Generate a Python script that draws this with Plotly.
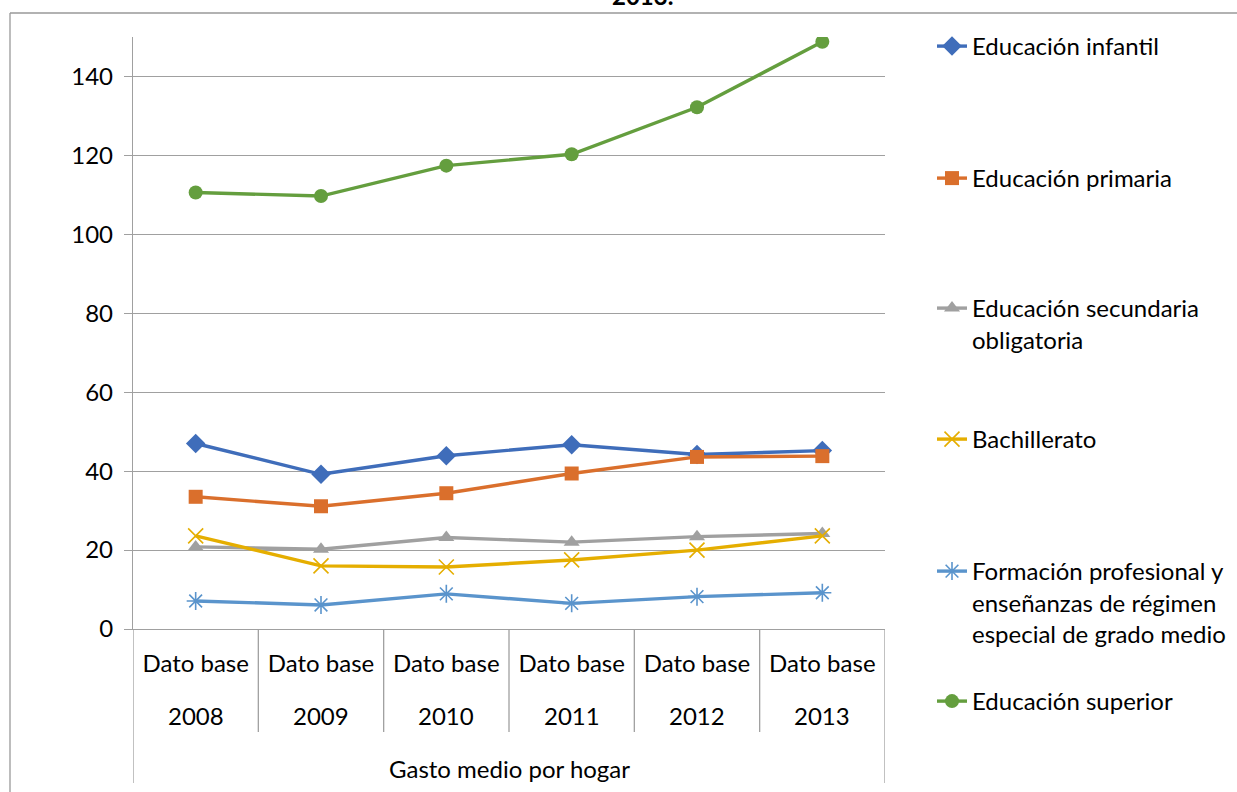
import plotly.graph_objects as go

years = ["2008", "2009", "2010", "2011", "2012", "2013"]
tick_top = "Dato base"
group_label = "Gasto medio por hogar"
title_tail = "2013."

series_names = [
    "Educación infantil",
    "Educación primaria",
    "Educación secundaria<br>obligatoria",
    "Bachillerato",
    "Formación profesional y<br>enseñanzas de régimen<br>especial de grado medio",
    "Educación superior",
]
infantil = [47.0, 39.2, 43.9, 46.7, 44.2, 45.2]
primaria = [33.5, 31.1, 34.4, 39.4, 43.6, 43.8]
secundaria = [20.8, 20.2, 23.2, 22.0, 23.4, 24.2]
bachillerato = [23.6, 16.0, 15.7, 17.5, 20.0, 23.6]
fp = [7.1, 6.1, 8.9, 6.5, 8.2, 9.2]
superior = [110.6, 109.7, 117.4, 120.3, 132.2, 148.8]

values = [infantil, primaria, secundaria, bachillerato, fp, superior]
colors = ["#3F6DBA", "#DA6F2C", "#A0A0A0", "#E5AE00", "#5A94CC", "#649E3E"]
symbols = ["diamond", "square", "triangle-up", "x-thin", "asterisk", "circle"]
msizes = [15, 14, 14, 15, 15, 14]
# legend text tops (px) for each item
legend_tops = [35, 167, 297, 428, 560, 690]

FONT = "Lato"
FS = 24
W, H = 1237, 792
L, R, T, B = 133, 885, 37, 629
PW, PH = R - L, B - T


def px_x(p):
    return (p - L) / PW


def px_y(p):
    return (B - p) / PH


fig = go.Figure()
for i, (name, vals) in enumerate(zip(series_names, values)):
    line_based = symbols[i] in ("x-thin", "asterisk")
    marker = dict(symbol=symbols[i], size=msizes[i], color=colors[i])
    if line_based:
        marker["line"] = dict(color=colors[i], width=1.6)
    else:
        marker["line"] = dict(width=0)
    fig.add_trace(go.Scatter(
        x=years, y=vals, name=name, mode="lines+markers",
        line=dict(color=colors[i], width=3.4),
        marker=marker,
        legend="legend" if i == 0 else f"legend{i+1}",
    ))

legend_base = dict(
    xanchor="left", yanchor="top", bgcolor="rgba(0,0,0,0)",
    borderwidth=0, font=dict(family=FONT, size=FS, color="#000000"),
    valign="top", itemwidth=30,
)
legends = {}
for i, top in enumerate(legend_tops):
    key = "legend" if i == 0 else f"legend{i+1}"
    legends[key] = dict(legend_base, x=px_x(932), y=px_y(top - 11))

shapes = []
line_col = "#a0a0a0"
# category dividers below the axis
for k in range(1, len(years)):
    shapes.append(dict(type="line", xref="x", yref="paper", x0=k - 0.5, x1=k - 0.5,
                       y0=0, y1=-(732 - B) / PH, line=dict(color=line_col, width=1.3)))
for edge in (-0.5, len(years) - 0.5):
    shapes.append(dict(type="line", xref="x", yref="paper", x0=edge, x1=edge,
                       y0=0, y1=-(783 - B) / PH, line=dict(color=line_col, width=1.3)))
# chart frame (partially visible)
shapes.append(dict(type="line", xref="paper", yref="paper", x0=px_x(10), x1=px_x(1300),
                   y0=px_y(13), y1=px_y(13), line=dict(color="#999999", width=1.3)))
shapes.append(dict(type="line", xref="paper", yref="paper", x0=px_x(10), x1=px_x(10),
                   y0=px_y(13), y1=px_y(850), line=dict(color="#999999", width=1.3)))

annotations = []
for idx, yr in enumerate(years):
    annotations.append(dict(x=idx, xref="x", yref="paper", y=px_y(715), text=yr,
                            showarrow=False, yanchor="middle",
                            font=dict(family=FONT, size=FS, color="#000000")))
annotations.append(dict(x=0.5, xref="paper", yref="paper", y=px_y(768), text=group_label,
                        showarrow=False, yanchor="middle",
                        font=dict(family=FONT, size=FS, color="#000000")))
annotations.append(dict(x=px_x(642), xref="paper", yref="paper", y=px_y(12), text="<b>" + title_tail + "</b>",
                        showarrow=False, xanchor="center", yanchor="bottom",
                        font=dict(family=FONT, size=FS, color="#000000")))

fig.update_layout(
    width=W, height=H,
    margin=dict(l=L, r=W - R, t=T, b=H - B, pad=0, autoexpand=False),
    paper_bgcolor="white", plot_bgcolor="white",
    font=dict(family=FONT, size=FS, color="#000000"),
    showlegend=True,
    shapes=shapes,
    annotations=annotations,
    **legends,
)
fig.update_xaxes(
    type="category", range=[-0.5, len(years) - 0.5],
    tickvals=years, ticktext=[tick_top] * len(years),
    ticks="", showgrid=False, showline=True, linecolor=line_col, linewidth=1.3,
    ticklabelstandoff=13,
    tickfont=dict(family=FONT, size=FS, color="#000000"),
)
fig.update_yaxes(
    range=[0, 150], tick0=0, dtick=20,
    showgrid=True, gridcolor=line_col, gridwidth=1.3,
    zeroline=False, showline=True, linecolor=line_col, linewidth=1.3,
    ticks="outside", ticklen=8, tickcolor=line_col, tickwidth=1.3,
    tickfont=dict(family=FONT, size=FS, color="#000000"),
    ticklabelstandoff=6,
)
fig.write_html(
    "out.html",
    config={"displayModeBar": False},
    post_script="document.body.style.margin='0';document.body.style.overflow='hidden';",
)
